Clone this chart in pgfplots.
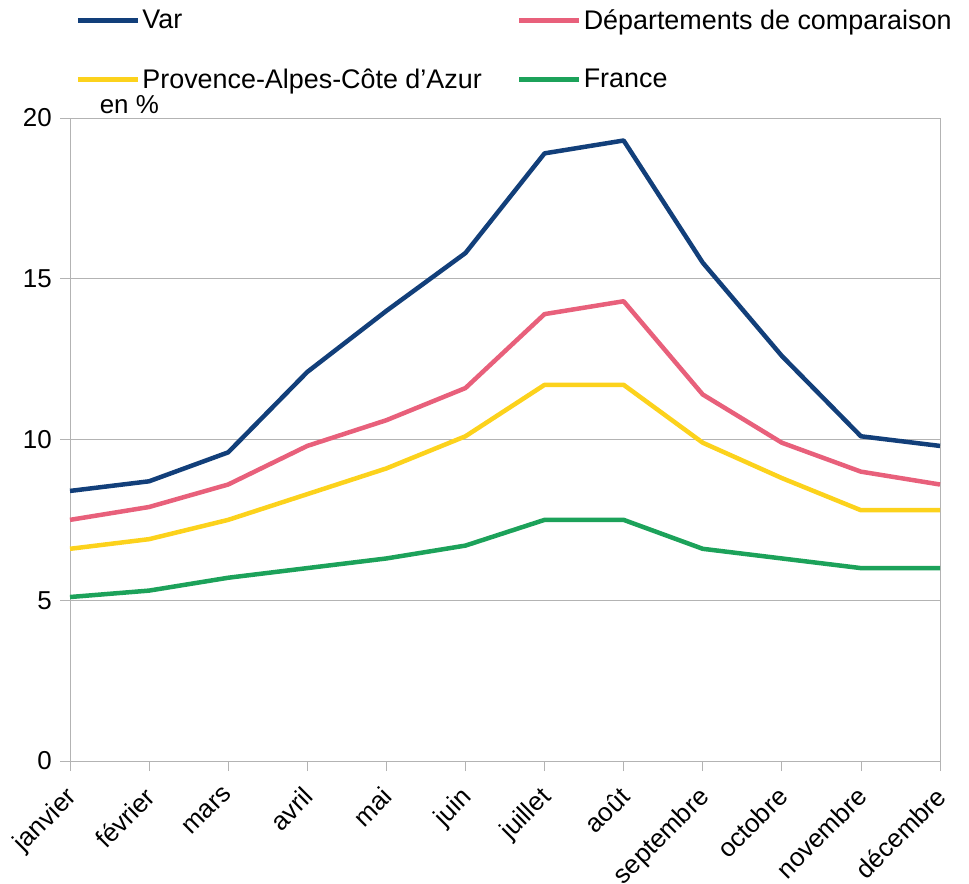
\documentclass[border=0pt]{standalone}
\usepackage{pgfplots}
\pgfplotsset{compat=1.18}
\usepackage{fontspec}
\setmainfont{Liberation Sans}
\definecolor{cvar}{HTML}{123F7A}
\definecolor{cdep}{HTML}{E8607B}
\definecolor{cpaca}{HTML}{FCD21C}
\definecolor{cfra}{HTML}{1CA25A}
\definecolor{axgray}{HTML}{B3B3B3}
\begin{document}
\begin{tikzpicture}
\begin{axis}[
  at={(0bp,0bp)}, anchor=south west,
  scale only axis, width=870bp, height=643bp,
  xmin=0, xmax=11, ymin=0, ymax=20,
  xtick={0,...,11},
  xticklabels={janvier,février,mars,avril,mai,juin,juillet,août,septembre,octobre,novembre,décembre},
  ytick={0,5,10,15,20},
  ymajorgrids, grid style={axgray, line width=0.8bp},
  axis line style={axgray, line width=0.8bp},
  tick style={axgray, line width=0.8bp},
  tick align=outside, major tick length=10bp,
  xtick pos=bottom, ytick pos=left,
  x tick label style={rotate=45, anchor=north east, inner sep=2bp, xshift=-12bp, yshift=-4bp, font=\fontsize{26}{29}\selectfont},
  y tick label style={font=\fontsize{26}{29}\selectfont, inner sep=3bp, xshift=-5bp},
  /pgf/number format/assume math mode=true,
  legend columns=2,
  legend cell align=left,
  legend image code/.code={\draw[#1, line width=5bp] (0bp,0bp) -- (60bp,0bp);},
  legend style={at={(rel axis cs:0.006,1)}, anchor=south west, yshift=26bp, draw=none, fill=none,
    font=\fontsize{27}{30}\selectfont, row sep=34bp, inner sep=0pt,
    /tikz/every even column/.append style={column sep=33bp}},
  every axis plot/.append style={line width=4.5bp, line join=round, no markers},
  clip=false,
]
\addplot[cvar] coordinates {(0,8.4)(1,8.7)(2,9.6)(3,12.1)(4,14.0)(5,15.8)(6,18.9)(7,19.3)(8,15.5)(9,12.6)(10,10.1)(11,9.8)};
\addlegendentry{Var}
\addplot[cdep] coordinates {(0,7.5)(1,7.9)(2,8.6)(3,9.8)(4,10.6)(5,11.6)(6,13.9)(7,14.3)(8,11.4)(9,9.9)(10,9.0)(11,8.6)};
\addlegendentry{Départements de comparaison}
\addplot[cpaca] coordinates {(0,6.6)(1,6.9)(2,7.5)(3,8.3)(4,9.1)(5,10.1)(6,11.7)(7,11.7)(8,9.9)(9,8.8)(10,7.8)(11,7.8)};
\addlegendentry{Provence-Alpes-Côte d’Azur}
\addplot[cfra] coordinates {(0,5.1)(1,5.3)(2,5.7)(3,6.0)(4,6.3)(5,6.7)(6,7.5)(7,7.5)(8,6.6)(9,6.3)(10,6.0)(11,6.0)};
\addlegendentry{France}
\node[anchor=south west, font=\fontsize{26}{29}\selectfont, inner sep=0pt] at (rel axis cs:0.034,1) [yshift=4bp] {en \%};
\end{axis}
\pgfresetboundingbox
\path[use as bounding box] (-70bp,-123bp) rectangle (899bp,761bp);
\end{tikzpicture}
\end{document}
